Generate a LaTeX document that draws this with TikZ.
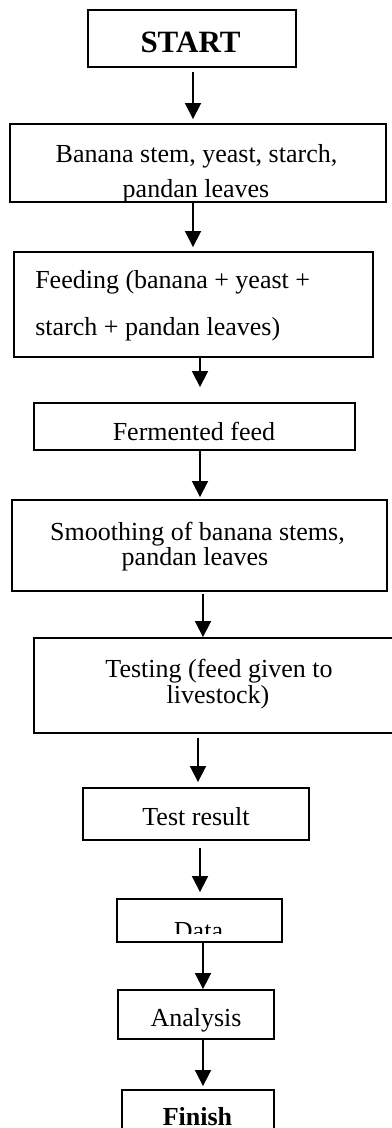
\documentclass[tikz,border=0pt]{standalone}
\usepackage{fontspec}
\setmainfont{Liberation Serif}
\usetikzlibrary{arrows.meta,fit}

\begin{document}
\begin{tikzpicture}[x=0.75pt, y=-0.75pt,
  box/.style={draw=black, line width=1.4pt, inner sep=0pt},
  txt/.style={font=\fontsize{19.5}{23}\selectfont, inner sep=0pt, anchor=base},
  ltxt/.style={txt, anchor=base west},
  arr/.style={-{Triangle[width=12pt,length=12pt]}, line width=1.3pt}]

\useasboundingbox (0,0) rectangle (392,1128);
\clip (0,0) rectangle (392,1128);

% process boxes
\node[box, fit={(88,10) (296,67)}]      (start)    {};
\node[box, fit={(10,124) (386,202)}]    (ingr)     {};
\node[box, fit={(14,252) (373,357)}]    (feeding)  {};
\node[box, fit={(34,403) (355,450)}]    (ferm)     {};
\node[box, fit={(12,500) (387,591)}]    (smooth)   {};
\node[box, fit={(34,638) (410,733)}]    (testing)  {};
\node[box, fit={(83,788) (309,840)}]    (result)   {};
\node[box, fit={(117,899) (282,942)}]   (data)     {};
\node[box, fit={(118,990) (274,1039)}]  (analysis) {};
\node[box, fit={(122,1090) (274,1160)}] (finish)   {};

% box texts
\node[txt, font=\fontsize{23.25}{28}\selectfont\bfseries] (tstart) at (190.5,52) {START};
\node[txt] (tingr1) at (196.5,162) {Banana stem, yeast, starch,};
\node[txt] (tingr2) at (196,197) {pandan leaves};
\node[ltxt] (tfeed1) at (35,288) {Feeding (banana + yeast +};
\node[ltxt] (tfeed2) at (35,335) {starch + pandan leaves)};
\node[txt] (tferm) at (194,440) {Fermented feed};
\node[txt] (tsmooth1) at (197.5,540) {Smoothing of banana stems,};
\node[txt] (tsmooth2) at (195,565) {pandan leaves};
\node[txt] (ttest1) at (219,677) {Testing (feed given to};
\node[txt] (ttest2) at (218,703) {livestock)};
\node[txt] (tresult) at (196,825) {Test result};
\begin{scope}
  \clip (117,899) rectangle (282,933);
  \node[txt] (tdata) at (198.5,939) {Data};
\end{scope}
\node[txt] (tanalysis) at (196,1026) {Analysis};
\node[txt, font=\fontsize{19.5}{23}\selectfont\bfseries] (tfinish) at (197.5,1125.5) {Finish};

% arrow columns
\coordinate (colA) at (193,0);
\coordinate (colB) at (200,0);
\coordinate (colC) at (203,0);
\coordinate (colD) at (198,0);

% connectors
\draw[arr, shorten <=3pt, shorten >=3pt]     (start.south -| colA)    -- (ingr.north -| colA);
\draw[arr, shorten >=3pt]                    (ingr.south -| colA)     -- (feeding.north -| colA);
\draw[arr, shorten >=11.25pt]                (feeding.south -| colB)  -- (ferm.north -| colB);
\draw[arr, shorten >=1.5pt]                  (ferm.south -| colB)     -- (smooth.north -| colB);
\draw[arr, shorten <=1.5pt]                  (smooth.south -| colC)   -- (testing.north -| colC);
\draw[arr, shorten <=3pt, shorten >=3.75pt]  (testing.south -| colD)  -- (result.north -| colD);
\draw[arr, shorten <=5.25pt, shorten >=4.5pt] (result.south -| colB)  -- (data.north -| colB);
\draw[arr]                                   (data.south -| colC)     -- (analysis.north -| colC);
\draw[arr, shorten >=2.25pt]                 (analysis.south -| colC) -- (finish.north -| colC);

\end{tikzpicture}
\end{document}
